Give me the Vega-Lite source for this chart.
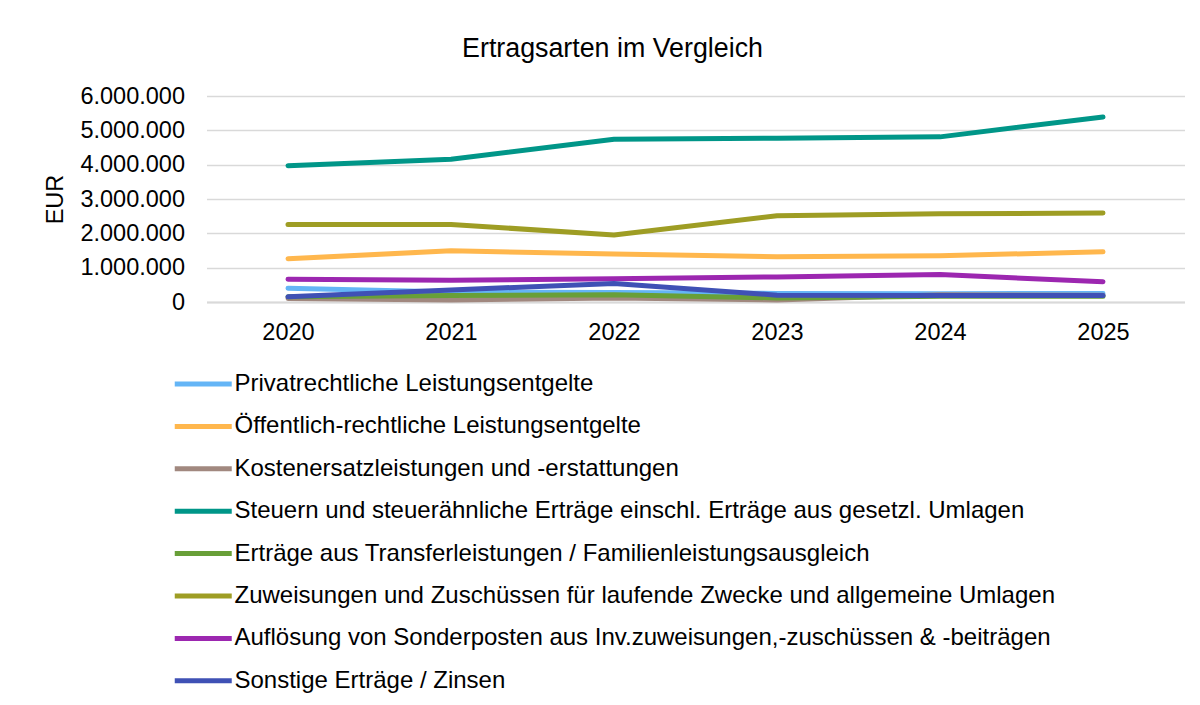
{
  "$schema": "https://vega.github.io/schema/vega-lite/v6.json",
  "width": 978,
  "height": 206,
  "autosize": {"type": "none"},
  "padding": {"left": 206.5, "top": 96, "right": 15.5, "bottom": 403},
  "background": "white",
  "title": {
    "text": "Ertragsarten im Vergleich",
    "fontSize": 26.8,
    "font": "Liberation Sans",
    "fontWeight": "normal",
    "color": "#000000",
    "anchor": "middle",
    "dx": -83,
    "baseline": "alphabetic",
    "offset": 0
  },
  "data": {
    "values": [
      {"Jahr": "2020", "Art": "Privatrechtliche Leistungsentgelte", "Wert": 400000},
      {"Jahr": "2021", "Art": "Privatrechtliche Leistungsentgelte", "Wert": 290000},
      {"Jahr": "2022", "Art": "Privatrechtliche Leistungsentgelte", "Wert": 280000},
      {"Jahr": "2023", "Art": "Privatrechtliche Leistungsentgelte", "Wert": 250000},
      {"Jahr": "2024", "Art": "Privatrechtliche Leistungsentgelte", "Wert": 240000},
      {"Jahr": "2025", "Art": "Privatrechtliche Leistungsentgelte", "Wert": 250000},
      {"Jahr": "2020", "Art": "Öffentlich-rechtliche Leistungsentgelte", "Wert": 1260000},
      {"Jahr": "2021", "Art": "Öffentlich-rechtliche Leistungsentgelte", "Wert": 1490000},
      {"Jahr": "2022", "Art": "Öffentlich-rechtliche Leistungsentgelte", "Wert": 1400000},
      {"Jahr": "2023", "Art": "Öffentlich-rechtliche Leistungsentgelte", "Wert": 1320000},
      {"Jahr": "2024", "Art": "Öffentlich-rechtliche Leistungsentgelte", "Wert": 1350000},
      {"Jahr": "2025", "Art": "Öffentlich-rechtliche Leistungsentgelte", "Wert": 1460000},
      {"Jahr": "2020", "Art": "Kostenersatzleistungen und -erstattungen", "Wert": 100000},
      {"Jahr": "2021", "Art": "Kostenersatzleistungen und -erstattungen", "Wert": 60000},
      {"Jahr": "2022", "Art": "Kostenersatzleistungen und -erstattungen", "Wert": 120000},
      {"Jahr": "2023", "Art": "Kostenersatzleistungen und -erstattungen", "Wert": 60000},
      {"Jahr": "2024", "Art": "Kostenersatzleistungen und -erstattungen", "Wert": 210000},
      {"Jahr": "2025", "Art": "Kostenersatzleistungen und -erstattungen", "Wert": 200000},
      {"Jahr": "2020", "Art": "Steuern und steuerähnliche Erträge einschl. Erträge aus gesetzl. Umlagen", "Wert": 3970000},
      {"Jahr": "2021", "Art": "Steuern und steuerähnliche Erträge einschl. Erträge aus gesetzl. Umlagen", "Wert": 4160000},
      {"Jahr": "2022", "Art": "Steuern und steuerähnliche Erträge einschl. Erträge aus gesetzl. Umlagen", "Wert": 4740000},
      {"Jahr": "2023", "Art": "Steuern und steuerähnliche Erträge einschl. Erträge aus gesetzl. Umlagen", "Wert": 4770000},
      {"Jahr": "2024", "Art": "Steuern und steuerähnliche Erträge einschl. Erträge aus gesetzl. Umlagen", "Wert": 4810000},
      {"Jahr": "2025", "Art": "Steuern und steuerähnliche Erträge einschl. Erträge aus gesetzl. Umlagen", "Wert": 5390000},
      {"Jahr": "2020", "Art": "Erträge aus Transferleistungen / Familienleistungsausgleich", "Wert": 150000},
      {"Jahr": "2021", "Art": "Erträge aus Transferleistungen / Familienleistungsausgleich", "Wert": 190000},
      {"Jahr": "2022", "Art": "Erträge aus Transferleistungen / Familienleistungsausgleich", "Wert": 210000},
      {"Jahr": "2023", "Art": "Erträge aus Transferleistungen / Familienleistungsausgleich", "Wert": 120000},
      {"Jahr": "2024", "Art": "Erträge aus Transferleistungen / Familienleistungsausgleich", "Wert": 170000},
      {"Jahr": "2025", "Art": "Erträge aus Transferleistungen / Familienleistungsausgleich", "Wert": 170000},
      {"Jahr": "2020", "Art": "Zuweisungen und Zuschüssen für laufende Zwecke und allgemeine Umlagen", "Wert": 2260000},
      {"Jahr": "2021", "Art": "Zuweisungen und Zuschüssen für laufende Zwecke und allgemeine Umlagen", "Wert": 2260000},
      {"Jahr": "2022", "Art": "Zuweisungen und Zuschüssen für laufende Zwecke und allgemeine Umlagen", "Wert": 1950000},
      {"Jahr": "2023", "Art": "Zuweisungen und Zuschüssen für laufende Zwecke und allgemeine Umlagen", "Wert": 2510000},
      {"Jahr": "2024", "Art": "Zuweisungen und Zuschüssen für laufende Zwecke und allgemeine Umlagen", "Wert": 2570000},
      {"Jahr": "2025", "Art": "Zuweisungen und Zuschüssen für laufende Zwecke und allgemeine Umlagen", "Wert": 2590000},
      {"Jahr": "2020", "Art": "Auflösung von Sonderposten aus Inv.zuweisungen,-zuschüssen & -beiträgen", "Wert": 660000},
      {"Jahr": "2021", "Art": "Auflösung von Sonderposten aus Inv.zuweisungen,-zuschüssen & -beiträgen", "Wert": 630000},
      {"Jahr": "2022", "Art": "Auflösung von Sonderposten aus Inv.zuweisungen,-zuschüssen & -beiträgen", "Wert": 680000},
      {"Jahr": "2023", "Art": "Auflösung von Sonderposten aus Inv.zuweisungen,-zuschüssen & -beiträgen", "Wert": 730000},
      {"Jahr": "2024", "Art": "Auflösung von Sonderposten aus Inv.zuweisungen,-zuschüssen & -beiträgen", "Wert": 800000},
      {"Jahr": "2025", "Art": "Auflösung von Sonderposten aus Inv.zuweisungen,-zuschüssen & -beiträgen", "Wert": 590000},
      {"Jahr": "2020", "Art": "Sonstige Erträge / Zinsen", "Wert": 150000},
      {"Jahr": "2021", "Art": "Sonstige Erträge / Zinsen", "Wert": 350000},
      {"Jahr": "2022", "Art": "Sonstige Erträge / Zinsen", "Wert": 540000},
      {"Jahr": "2023", "Art": "Sonstige Erträge / Zinsen", "Wert": 200000},
      {"Jahr": "2024", "Art": "Sonstige Erträge / Zinsen", "Wert": 190000},
      {"Jahr": "2025", "Art": "Sonstige Erträge / Zinsen", "Wert": 190000}
    ]
  },
  "mark": {"type": "line", "strokeWidth": 5, "strokeCap": "round", "strokeJoin": "round"},
  "encoding": {
    "x": {
      "field": "Jahr",
      "type": "ordinal",
      "scale": {"type": "point", "padding": 0.5},
      "axis": {
        "title": null,
        "labelAngle": 0,
        "ticks": false,
        "grid": false,
        "domainColor": "#d9d9d9",
        "domainWidth": 2,
        "labelPadding": 18,
        "labelFontSize": 23.5,
        "labelFont": "Liberation Sans",
        "labelColor": "#000000"
      }
    },
    "y": {
      "field": "Wert",
      "type": "quantitative",
      "scale": {"domain": [0, 6000000], "nice": false},
      "axis": {
        "title": "EUR",
        "titleFontSize": 23.5,
        "titleFont": "Liberation Sans",
        "titleFontWeight": "normal",
        "titleColor": "#000000",
        "titlePadding": 12,
        "values": [0, 1000000, 2000000, 3000000, 4000000, 5000000, 6000000],
        "format": ",d",
        "domain": false,
        "ticks": false,
        "labelPadding": 22,
        "labelFontSize": 23.5,
        "labelFont": "Liberation Sans",
        "labelColor": "#000000",
        "gridColor": "#d9d9d9",
        "gridWidth": 1.5
      }
    },
    "color": {
      "field": "Art",
      "type": "nominal",
      "sort": null,
      "scale": {
        "domain": [
          "Privatrechtliche Leistungsentgelte",
          "Öffentlich-rechtliche Leistungsentgelte",
          "Kostenersatzleistungen und -erstattungen",
          "Steuern und steuerähnliche Erträge einschl. Erträge aus gesetzl. Umlagen",
          "Erträge aus Transferleistungen / Familienleistungsausgleich",
          "Zuweisungen und Zuschüssen für laufende Zwecke und allgemeine Umlagen",
          "Auflösung von Sonderposten aus Inv.zuweisungen,-zuschüssen & -beiträgen",
          "Sonstige Erträge / Zinsen"
        ],
        "range": ["#64B5F6", "#FFB74D", "#A1887F", "#009688", "#689F38", "#9E9D24", "#9C27B0", "#3F51B5"]
      },
      "legend": {
        "title": null,
        "orient": "none",
        "legendX": -34.5,
        "legendY": 271,
        "direction": "vertical",
        "symbolType": "M-1,0H3",
        "symbolSize": 812,
        "symbolStrokeWidth": 5,
        "labelOffset": 28.5,
        "labelFontSize": 24,
        "labelFont": "Liberation Sans",
        "labelColor": "#000000",
        "labelLimit": 0,
        "rowPadding": 13.4,
        "padding": 0
      }
    }
  },
  "config": {
    "locale": {"number": {"decimal": ",", "thousands": ".", "grouping": [3], "currency": ["", " €"]}},
    "view": {"stroke": null},
    "legend": {"symbolStrokeColor": null}
  }
}
